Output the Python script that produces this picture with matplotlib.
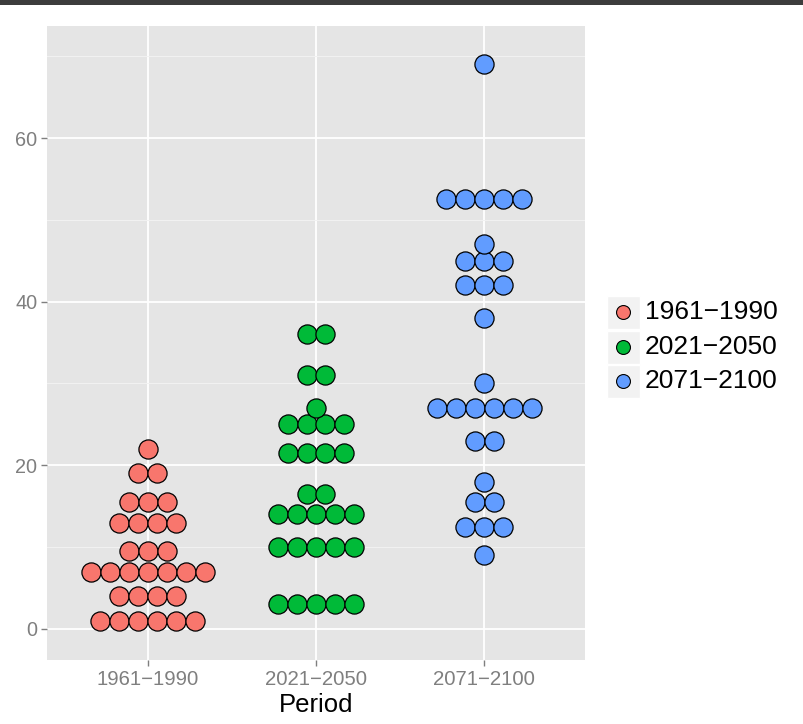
import matplotlib
matplotlib.use("Agg")
import matplotlib.pyplot as plt
from matplotlib.patches import Rectangle
import numpy as np

plt.rcParams['font.family'] = ['Liberation Sans', 'DejaVu Sans']

periods = ["1961\u22121990", "2021\u22122050", "2071\u22122100"]
colors = ["#F8766D", "#00BA38", "#619CFF"]

# stacked dot rows: y value of bin and number of dots in it
p1_y = [1, 4, 7, 9.5, 13, 15.5, 19, 22]
p1_n = [6, 4, 7, 3, 4, 3, 2, 1]
p2_y = [3, 10, 14, 16.5, 21.5, 25, 27, 31, 36]
p2_n = [5, 5, 5, 2, 4, 4, 1, 2, 2]
p3_y = [9, 12.5, 15.5, 18, 23, 27, 30, 38, 42, 45, 47, 52.5, 69]
p3_n = [1, 3, 2, 1, 2, 6, 1, 1, 3, 3, 1, 5, 1]

groups = [(p1_y, p1_n), (p2_y, p2_n), (p3_y, p3_n)]

W, H = 804, 724
fig = plt.figure(figsize=(W / 100, H / 100), dpi=100)
fig.patches.append(Rectangle((0, 1 - 5 / H), 1, 5 / H, transform=fig.transFigure,
                             facecolor="#3c3c3c", edgecolor="none", zorder=0))

ax = fig.add_axes([47 / W, 1 - 660 / H, (585 - 47) / W, (660 - 26) / H])
ax.set_facecolor("#E5E5E5")

step = 0.113  # horizontal spacing of stacked dots in category units
for i, (ys, ns) in enumerate(groups):
    xs, yy = [], []
    for y, n in zip(ys, ns):
        for k in range(n):
            xs.append(i + 1 + (k - (n - 1) / 2) * step)
            yy.append(y)
    ax.scatter(xs, yy, s=190, facecolor=colors[i], edgecolor="black",
               linewidth=0.9, zorder=3)

ax.set_xlim(0.4, 3.6)
ax.set_ylim(-3.8, 73.7)
ax.set_xticks([1, 2, 3])
ax.set_xticklabels(periods)
ax.set_yticks([0, 20, 40, 60])
ax.set_yticks([10, 30, 50, 70], minor=True)
ax.grid(which="major", color="white", linewidth=1.3)
ax.grid(which="minor", color="#F2F2F2", linewidth=0.7)
ax.set_axisbelow(True)
for s in ax.spines.values():
    s.set_visible(False)
ax.tick_params(which="major", length=4, width=1, color="#7F7F7F",
               labelcolor="#7F7F7F", labelsize=14.3, pad=3)
ax.tick_params(axis="x", labelsize=14.7)
ax.tick_params(which="minor", length=0)
ax.tick_params(axis="x", which="minor", bottom=False)
ax.set_xlabel("Period", fontsize=18.5, color="black", labelpad=3)

# legend drawn by hand to get the grey key boxes
key_y = [312, 347, 381]
for c, lab, ky in zip(colors, periods, key_y):
    fig.patches.append(Rectangle((607 / W, 1 - (ky + 16.5) / H), 33 / W, 33 / H,
                                 transform=fig.transFigure, facecolor="#F2F2F2",
                                 edgecolor="white", linewidth=1))
    fig.add_artist(plt.Line2D([623.5 / W], [1 - ky / H], marker="o", markersize=10,
                              markerfacecolor=c, markeredgecolor="black",
                              markeredgewidth=0.8, transform=fig.transFigure))
    fig.text(645 / W, 1 - ky / H, lab, fontsize=19, va="center", ha="left")

fig.savefig("out.png", dpi=100)
